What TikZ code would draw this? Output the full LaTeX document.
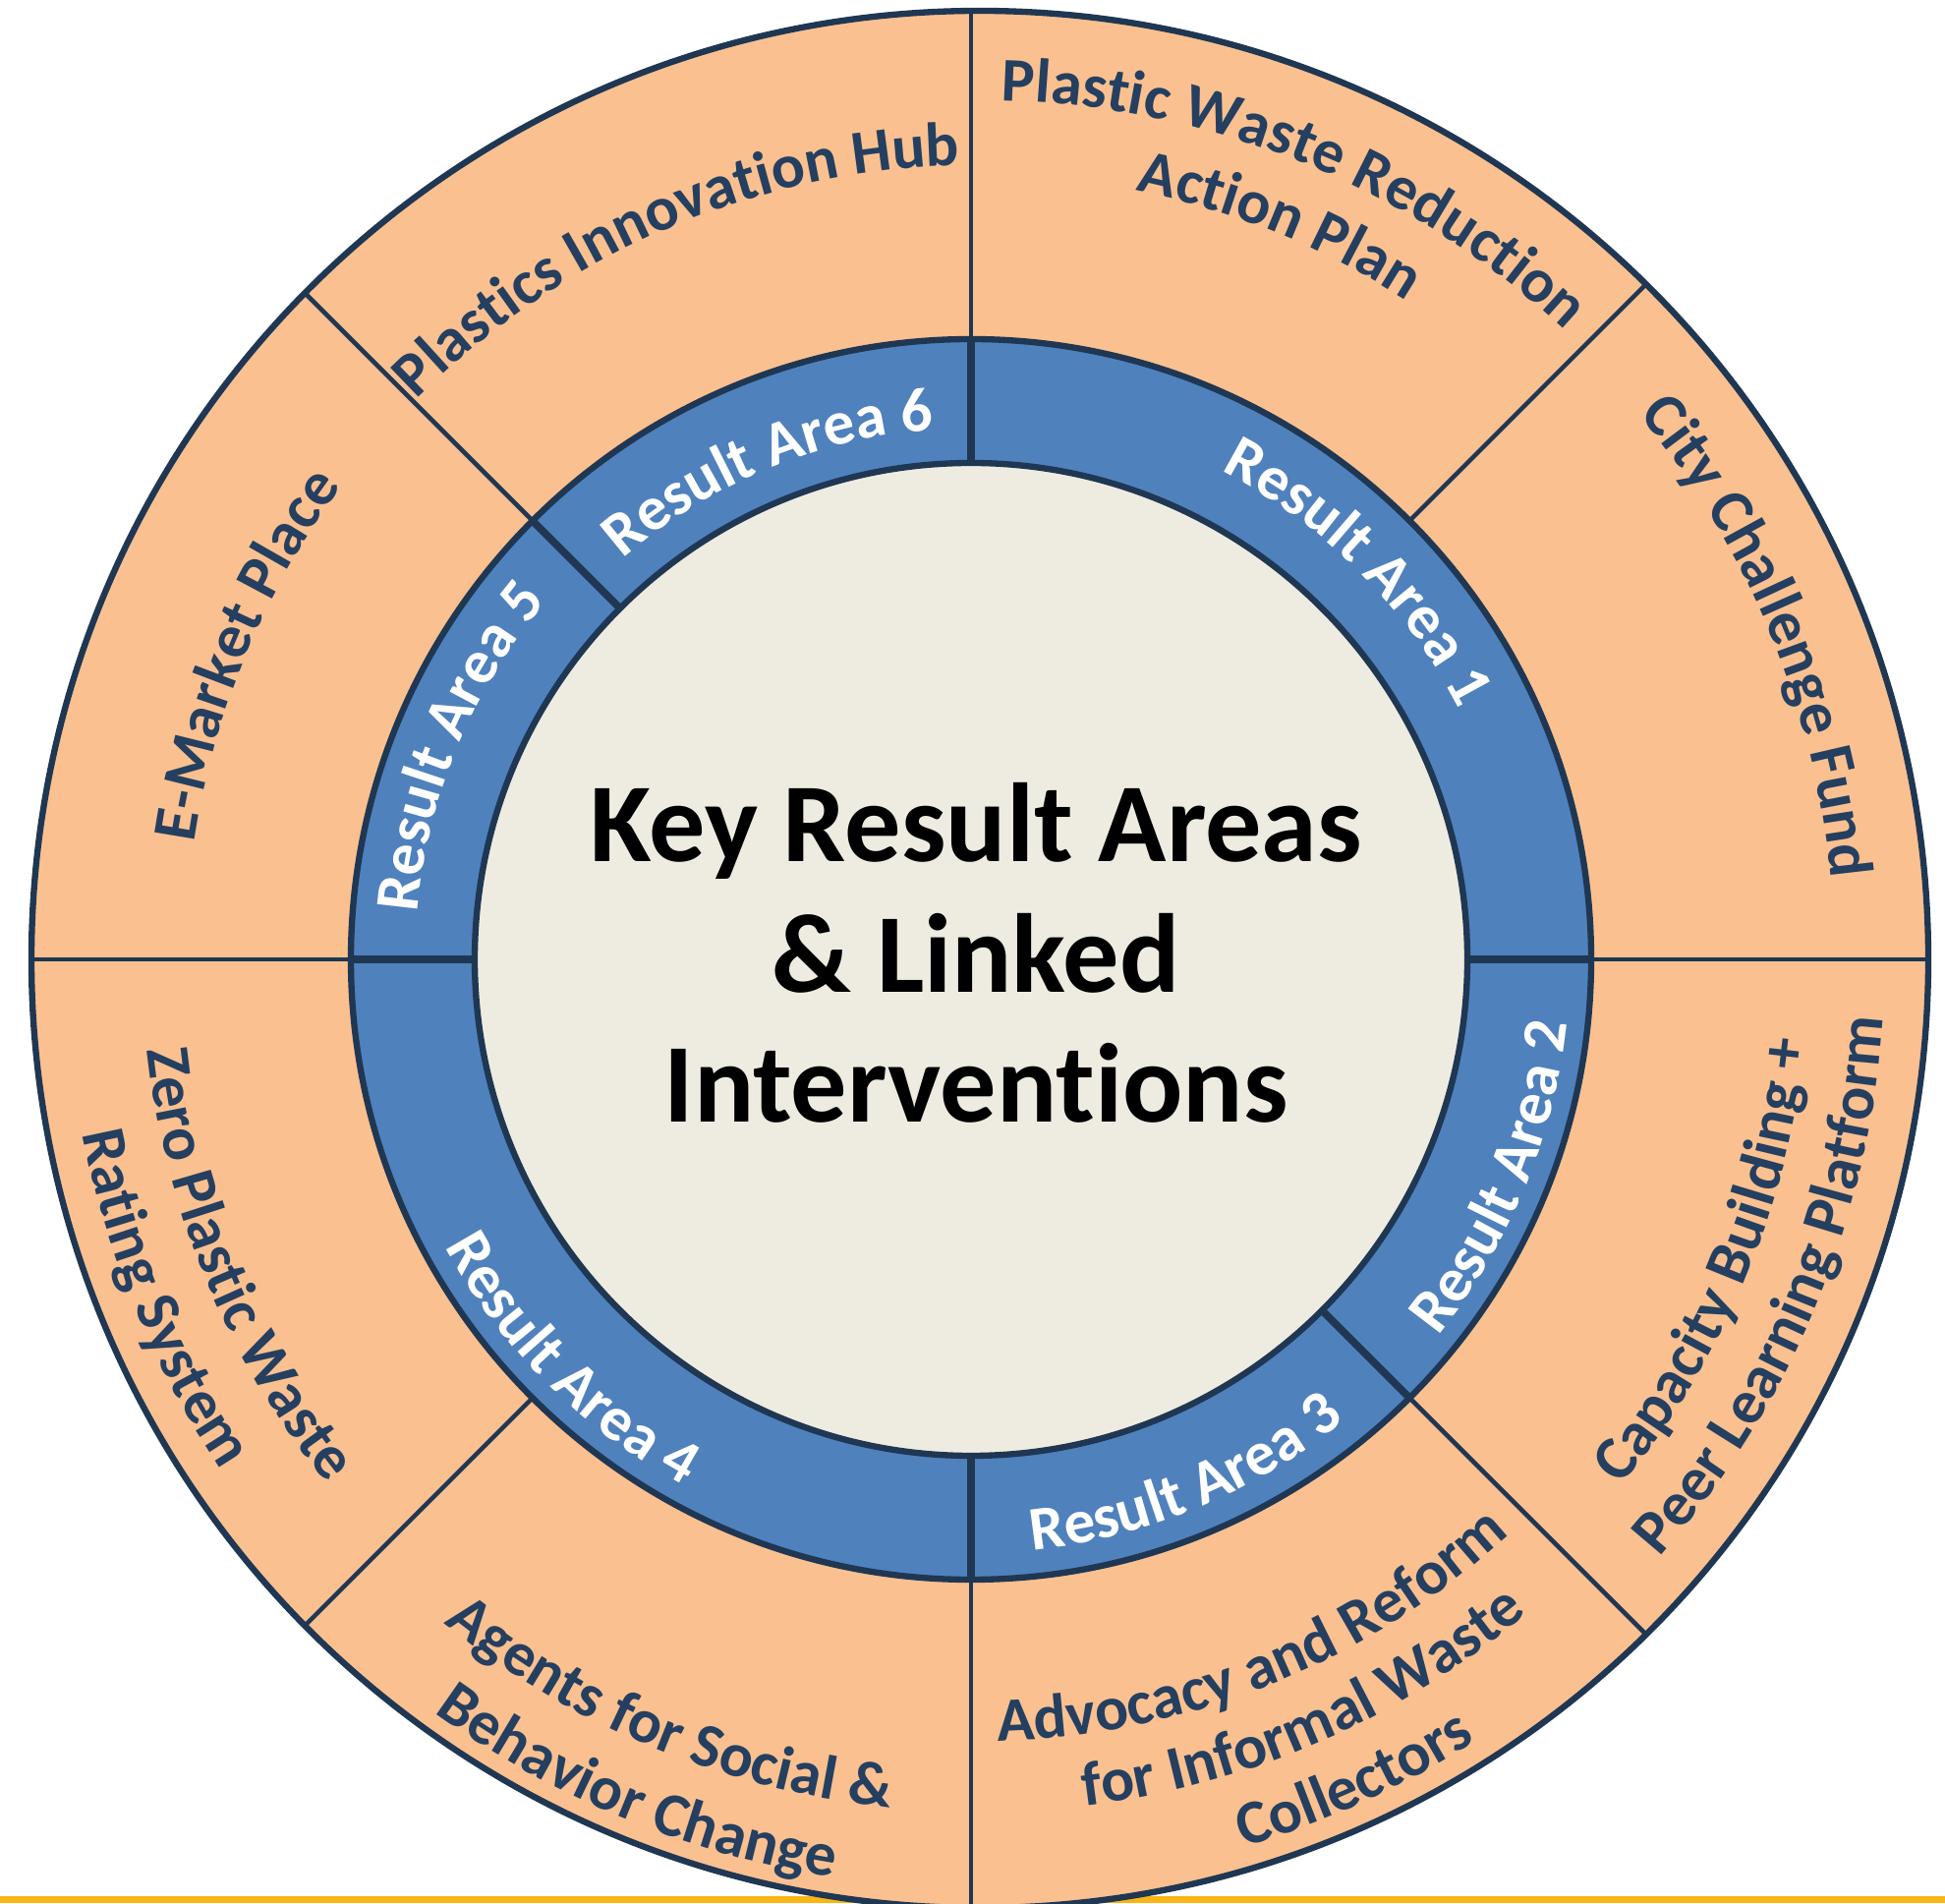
\documentclass[tikz,border=0pt]{standalone}
\usepackage{fontspec}
\setmainfont{Carlito}[Ligatures=NoCommon]
\usetikzlibrary{decorations.text}

\definecolor{peach}{HTML}{FAC090}
\definecolor{ringblue}{HTML}{4F81BD}
\definecolor{corebeige}{HTML}{EEECE1}
\definecolor{edgenavy}{HTML}{1F3752}
\definecolor{labelnavy}{HTML}{243F60}
\definecolor{baseamber}{HTML}{F9B516}

\newcommand\outerfont{\fontsize{18}{22}\selectfont\bfseries\color{labelnavy}}
\newcommand\areafont{\fontsize{18}{22}\selectfont\bfseries\color{white}}
\newcommand\centerfont{\fontsize{32.5}{38}\selectfont\bfseries}

% one line of text on a clockwise arc (letters standing outwards)
\newcommand\labelcw[5]{%
  \path[shift={(#1)}, decorate,
        decoration={text along path, text align=center, text={|#4|#5}}]
    ({#2+70}:#3) arc[start angle={#2+70}, end angle={#2-70}, radius=#3];}
% one line of text on a counter-clockwise arc (letters standing inwards)
\newcommand\labelccw[5]{%
  \path[shift={(#1)}, decorate,
        decoration={text along path, text align=center, text={|#4|#5}}]
    ({#2-70}:#3) arc[start angle={#2-70}, end angle={#2+70}, radius=#3];}

\tikzset{
  divider/.style={draw=edgenavy, line width=1.3pt},
  ringdivider/.style={draw=edgenavy, line width=2.2pt},
  rim/.style={draw=edgenavy, line width=1.8pt},
}

\begin{document}
\begin{tikzpicture}[x=0.01cm, y=0.01cm]
\useasboundingbox (0,0) rectangle (1979,1936);
\coordinate (co) at (997,960);
\coordinate (ci) at (988,960);

% amber rule along the bottom edge
\fill[baseamber] (0,0) rectangle (1979,7);

% outer ring of interventions
\fill[peach] (co) circle[radius=965];
\begin{scope}
  \clip (co) circle[radius=965];
  \foreach \a in {0,45,...,315} \draw[divider] (ci) -- ++(\a:1100);
\end{scope}
\draw[rim] (co) circle[radius=965];

% ring of result areas
\fill[ringblue] (ci) circle[radius=631];
\begin{scope}
  \clip (ci) circle[radius=631];
  \foreach \a in {90,0,-45,-90,180,135} \draw[ringdivider] (ci) -- ++(\a:700);
\end{scope}
\draw[rim] (ci) circle[radius=631];

% core
\filldraw[fill=corebeige, rim] (ci) circle[radius=505];
\node[font=\centerfont, anchor=base] (core1) at (993,1059) {Key Result Areas};
\node[font=\centerfont, anchor=base] (core2) at (993,926) {\& Linked};
\node[font=\centerfont, anchor=base] (core3) at (993,794) {Interventions};

% result area labels
\labelcw{ci}{45}{558}{\areafont}{Result Area 1}
\labelccw{ci}{-22.5}{610}{\areafont}{Result Area 2}
\labelccw{ci}{-67.5}{604}{\areafont}{Result Area 3}
\labelccw{ci}{-135}{610}{\areafont}{Result Area 4}
\labelcw{ci}{157.5}{565}{\areafont}{Result Area 5}
\labelcw{ci}{112.5}{540}{\areafont}{Result Area 6}

% intervention labels
\labelcw{co}{67.8}{874}{\outerfont}{Plastic Waste Reduction}
\labelcw{co}{67.8}{798}{\outerfont}{Action Plan}
\labelcw{co}{22.5}{870}{\outerfont}{City Challenge Fund}
\labelccw{co}{-22.5}{844}{\outerfont}{Capacity Building +}
\labelccw{co}{-22.5}{921}{\outerfont}{Peer Learning Platform}
\labelccw{co}{-68}{795}{\outerfont}{Advocacy and Reform}
\labelccw{co}{-66.5}{868}{\outerfont}{for Informal Waste}
\labelccw{co}{-65.5}{942}{\outerfont}{Collectors}
\labelccw{co}{-112.5}{868}{\outerfont}{Agents for Social {\&}}
\labelccw{co}{-112.5}{946}{\outerfont}{Behavior Change}
\labelccw{co}{-157.5}{852}{\outerfont}{Zero Plastic Waste}
\labelccw{co}{-157.5}{930}{\outerfont}{Rating System}
\labelcw{co}{157.5}{808}{\outerfont}{E-Market Place}
\labelcw{co}{113.3}{808}{\outerfont}{Plastics Innovation Hub}
\end{tikzpicture}
\end{document}
